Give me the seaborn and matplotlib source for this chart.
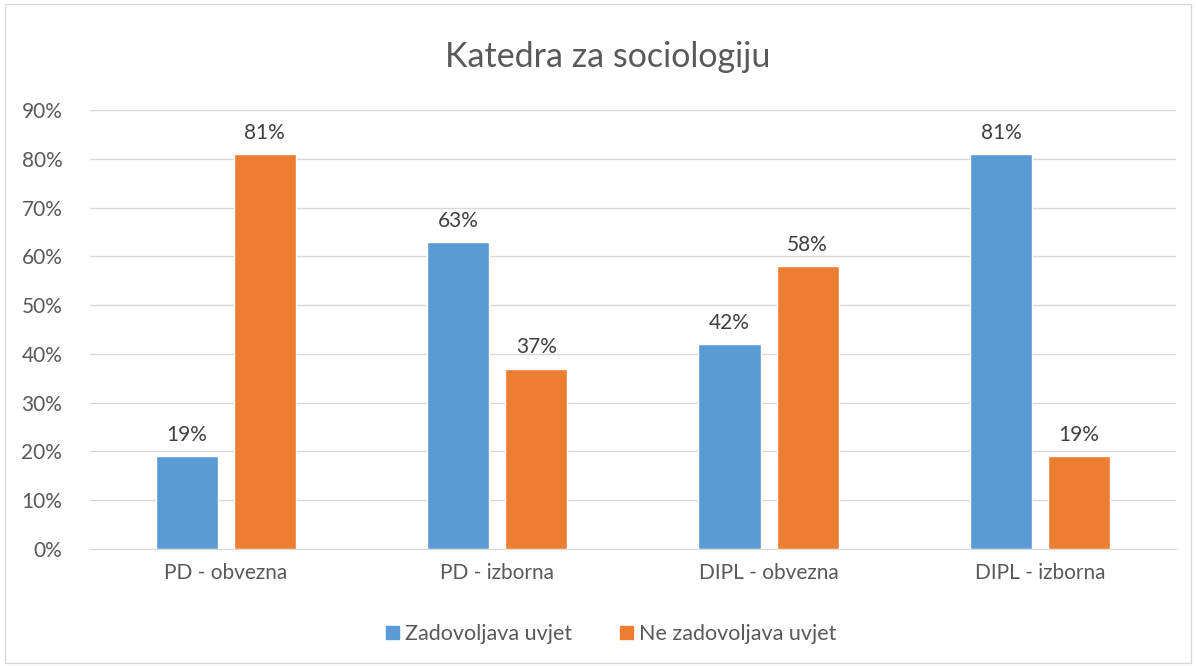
import matplotlib
matplotlib.use("Agg")
import matplotlib.pyplot as plt
import matplotlib.patches as mpatches
import seaborn as sns
import pandas as pd
from matplotlib.ticker import PercentFormatter

# ---------------- DATA ----------------
categories = ["PD - obvezna", "PD - izborna", "DIPL - obvezna", "DIPL - izborna"]
series = ["Zadovoljava uvjet", "Ne zadovoljava uvjet"]
zadovoljava = [19, 63, 42, 81]
ne_zadovoljava = [81, 37, 58, 19]
colors = ["#5B9BD5", "#ED7D31"]

df = pd.DataFrame({
    "kategorija": categories * 2,
    "serija": [series[0]] * 4 + [series[1]] * 4,
    "vrijednost": zadovoljava + ne_zadovoljava,
})

# ---------------- STYLE ----------------
sns.set_style("white")
plt.rcParams["font.family"] = ["Lato", "DejaVu Sans"]
TXT = "#595959"

fig = plt.figure(figsize=(11.96, 6.66), dpi=100)
ax = fig.add_axes([0.0753, 0.1757, 0.9077, 0.6591])

sns.barplot(data=df, x="kategorija", y="vrijednost", hue="serija",
            palette=colors, width=0.576, gap=0.205, ax=ax, legend=False,
            saturation=1)

# labels above bars
for cont in ax.containers:
    ax.bar_label(cont, labels=[f"{v:.0f}%" for v in cont.datavalues],
                 padding=8, fontsize=15, color="#404040")

ax.set_ylim(0, 90)
ax.set_xlim(-0.5, 3.5)
ax.set_yticks(range(0, 91, 10))
ax.yaxis.set_major_formatter(PercentFormatter(decimals=0))
ax.grid(axis="y", color="#D9D9D9", linewidth=1)
ax.set_axisbelow(True)
for s in ["top", "right", "left"]:
    ax.spines[s].set_visible(False)
ax.spines["bottom"].set_color("#D9D9D9")
ax.tick_params(axis="both", length=0, labelsize=15, colors=TXT, pad=10)
ax.tick_params(axis="y", pad=20)
ax.set_xlabel("")
ax.set_ylabel("")

fig.text(0.508, 0.915, "Katedra za sociologiju", ha="center", va="center",
         fontsize=24.5, color=TXT)

handles = [mpatches.Patch(color=c, label=l) for c, l in zip(colors, series)]
fig.legend(handles=handles, loc="center", bbox_to_anchor=(0.511, 0.048),
           ncol=2, frameon=False, fontsize=15.5, handlelength=0.6,
           handleheight=0.6, handletextpad=0.3, columnspacing=2.2,
           labelcolor=TXT)

# outer border
fig.patches.append(mpatches.Rectangle((0.004, 0.004), 0.992, 0.99,
                                      transform=fig.transFigure, fill=False,
                                      edgecolor="#D9D9D9", linewidth=1))

fig.savefig("out.png", dpi=100)
